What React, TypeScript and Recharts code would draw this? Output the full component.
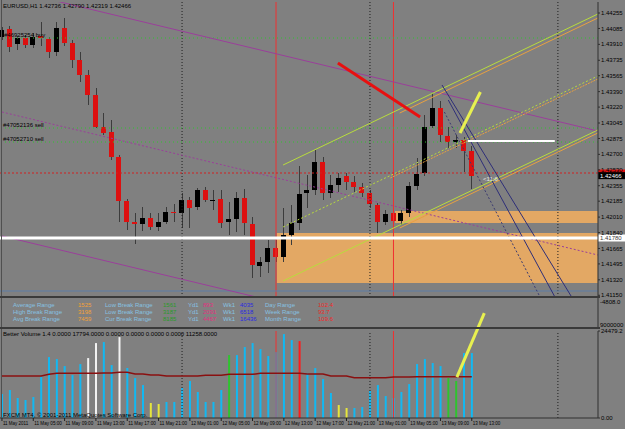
import React from "react";
import {
  Bar,
  Cell,
  ComposedChart,
  Line,
  ReferenceArea,
  ReferenceLine,
  XAxis,
  YAxis,
} from "recharts";

// EURUSD H1, 11-13 May 2011, one entry per bar (bar 0 = 11 May 01:00)
const opens = [
  1.43991, 1.44079, 1.43914, 1.4398, 1.43903, 1.44002, 1.43969, 1.43826, 1.4409, 1.43925,
  1.43738, 1.43573, 1.43353, 1.43001, 1.42946, 1.42671, 1.42187, 1.41956, 1.41934, 1.42,
  1.41901, 1.41956, 1.42066, 1.42055, 1.42198, 1.42121, 1.42308, 1.42198, 1.42209, 1.41956,
  1.41989, 1.4222, 1.41934, 1.41472, 1.41516, 1.4167, 1.41571, 1.41813, 1.41945, 1.42275,
  1.42308, 1.42616, 1.42275, 1.42363, 1.42462, 1.42396, 1.42341, 1.42275, 1.42143, 1.41956,
  1.42055, 1.41967, 1.42055, 1.42352, 1.42495, 1.43012, 1.4321, 1.42902, 1.42836, 1.42858,
  1.42736,
];
const highs = [
  1.44101, 1.44112, 1.44002, 1.44013, 1.44035, 1.44156, 1.43991, 1.44156, 1.442, 1.43958,
  1.43826, 1.43628, 1.4343, 1.43155, 1.43078, 1.42693, 1.42209, 1.42055, 1.42121, 1.42055,
  1.42055, 1.42121, 1.42154, 1.42275, 1.42231, 1.4233, 1.42341, 1.42308, 1.42308, 1.42176,
  1.42286, 1.42319, 1.42011, 1.41571, 1.41758, 1.41758, 1.4211, 1.42143, 1.42572, 1.42473,
  1.42748, 1.42671, 1.42473, 1.42495, 1.42495, 1.42462, 1.42385, 1.42308, 1.42165, 1.42088,
  1.42088, 1.42088, 1.42396, 1.4266, 1.43133, 1.43375, 1.43287, 1.43001, 1.42913, 1.42891,
  1.4279,
];
const lows = [
  1.43958, 1.43826, 1.43848, 1.4387, 1.4387, 1.43892, 1.4376, 1.43782, 1.43892, 1.4365,
  1.43496, 1.43243, 1.4299, 1.42913, 1.42638, 1.41956, 1.41868, 1.41714, 1.41857, 1.41868,
  1.41857, 1.41934, 1.41956, 1.4189, 1.4189, 1.42088, 1.42176, 1.42088, 1.4189, 1.41813,
  1.41846, 1.41813, 1.4134, 1.41351, 1.41395, 1.41516, 1.41516, 1.41703, 1.41868, 1.4211,
  1.42253, 1.42198, 1.4222, 1.42286, 1.42308, 1.42286, 1.42231, 1.4211, 1.41835, 1.41923,
  1.41934, 1.41923, 1.42011, 1.42308, 1.42462, 1.4299, 1.42836, 1.4277, 1.4277, 1.42506,
  1.42319,
];
const closes = [
  1.44068, 1.43881, 1.4398, 1.43903, 1.43991, 1.4398, 1.43826, 1.4409, 1.43925, 1.43738,
  1.43573, 1.43353, 1.43001, 1.42935, 1.42671, 1.42187, 1.41956, 1.41934, 1.42, 1.41901,
  1.41956, 1.42066, 1.42055, 1.42198, 1.4211, 1.42308, 1.42198, 1.42198, 1.41945, 1.41989,
  1.4222, 1.41945, 1.41483, 1.41516, 1.4167, 1.41571, 1.41813, 1.41945, 1.42264, 1.42308,
  1.42616, 1.42275, 1.42363, 1.4244, 1.42396, 1.42341, 1.42275, 1.42154, 1.41956, 1.42044,
  1.41967, 1.42055, 1.42352, 1.42484, 1.43001, 1.4321, 1.42913, 1.42836, 1.42858, 1.42737,
  1.42466,
];

// Better Volume 1.4
const volumes = [
  6740, 7870, 5620, 5060, 5900, 11520, 17140, 16580, 14610, 12080,
  15170, 16860, 21080, 21360, 14890, 22760, 14050, 11240, 9270, 4220,
  3930, 4500, 4500, 8430, 10400, 7310, 4500, 4500, 7870, 17700,
  17700, 19950, 21080, 19390, 17420, 18550, 23600, 21920, 21640, 12650,
  14050, 10960, 7030, 3650, 2810, 2810, 3090, 7590, 9270, 6180,
  5620, 7310, 9550, 15170, 16580, 15460, 14610, 11240, 10400, 18270,
  18270,
];
const volumeMa = [
  11800, 11800, 11800, 11800, 11800, 11800, 12280, 12560, 12560, 12560,
  12560, 12560, 12560, 12650, 12650, 12840, 12840, 12360, 12360, 12080,
  12080, 11800, 11800, 11800, 11800, 11800, 12000, 12000, 12000, 12280,
  12280, 12280, 12280, 12560, 12560, 12560, 12560, 12560, 12560, 12360,
  12360, 12360, 11800, 11800, 11800, 11320, 11320, 11320, 11320, 11320,
  11520, 11520, 11520, 11600, 11600, 11600, 11600, 11600, 11600, 11600,
  11600,
];
// n = normal, lo = low volume, cd = climax down, cu = climax up, ch = churn
const volumeKind = [
  "n", "n", "n", "n", "n", "n", "n", "n", "n", "n",
  "n", "cd", "cd", "n", "n", "cd", "n", "n", "n", "lo",
  "lo", "n", "n", "n", "n", "n", "n", "n", "n", "ch",
  "n", "n", "n", "n", "n", "n", "n", "n", "cu", "n",
  "n", "n", "n", "lo", "lo", "n", "n", "n", "n", "n",
  "n", "n", "n", "n", "n", "n", "n", "ch", "ch", "n",
  "n",
];

const timeTicks = [0, 4, 8, 12, 16, 20, 24, 28, 32, 36, 40, 44, 48, 52, 56, 60];
const timeLabels = [
  "11 May 2011", "11 May 05:00", "11 May 09:00", "11 May 13:00", "11 May 17:00",
  "11 May 21:00", "12 May 01:00", "12 May 05:00", "12 May 09:00", "12 May 13:00",
  "12 May 17:00", "12 May 21:00", "13 May 01:00", "13 May 05:00", "13 May 09:00",
  "13 May 13:00",
];
const priceTicks = [
  1.44255, 1.44085, 1.4391, 1.43735, 1.43565, 1.4339, 1.4322, 1.43045, 1.42875, 1.427,
  1.4253, 1.42355, 1.42185, 1.4201, 1.4184, 1.41665, 1.41495, 1.4132, 1.4115,
];

// chart objects, in (bar, price)
const daySeparators = [23, 47, 71];
const redMarkers = [35, 50];
const orderBuy = [1.4398];
const orderSell = [1.4299, 1.42836];
const redLevel = 1.42495;
const whiteLevel = 1.4178;
const blueLevel = 1.41197;
const bid = 1.42466;
const whiteShort = { from: 59.5, to: 70.6, price: 1.42847 };
const zones = [
  { x1: 50.2, x2: 76.1, y1: 1.41945, y2: 1.42077 },
  { x1: 35.1, x2: 76.1, y1: 1.41285, y2: 1.41835 },
];
const trendLines = [
  { id: "chanTop", a: [0, 1.4453], b: [76.1, 1.42957] },
  { id: "chanMid", a: [0, 1.43166], b: [76.1, 1.41593] },
  { id: "chanLow", a: [0, 1.41802], b: [76.1, 1.40229] },
  { id: "forkUp", a: [35.9, 1.42583], b: [76.1, 1.44244] },
  { id: "forkMid", a: [35.9, 1.41901], b: [76.1, 1.43562] },
  { id: "forkLow", a: [35.9, 1.41307], b: [76.1, 1.42968] },
  { id: "orUp", a: [50.8, 1.43155], b: [76.1, 1.442] },
  { id: "orMid", a: [49.6, 1.4244], b: [76.1, 1.43529] },
  { id: "orLow", a: [50.8, 1.4189], b: [76.1, 1.42935] },
  { id: "downA", a: [56.2, 1.43463], b: [75.1, 1.40801] },
  { id: "downB", a: [56.5, 1.43166], b: [70.9, 1.40768] },
  { id: "downC", a: [57.0, 1.43298], b: [72.9, 1.40768] },
  { id: "red", a: [42.9, 1.43705], b: [53.4, 1.43111] },
  { id: "yellow", a: [58.5, 1.42935], b: [61.1, 1.43386] },
];
const volumeStroke = { a: [58.1, 11520], b: [61.6, 29500] };

const dashLabelsA = ["Average Range", "High Break Range", "Avg Break Range"];
const dashOrange = ["1525", "3198", "7459"];
const dashLabelsB = ["Low Break Range", "Low Break Range", "Cur Break Range"];
const dashGreen = ["1561", "3187", "8185"];
const dashPink = ["893", "2091", "4467"];
const dashBlue = ["4035", "6518", "16436"];
const dashLabelsC = ["Day Range", "Week Range", "Month Range"];
const dashRed = ["102.4", "93.7", "109.6"];

const lineStyle: Record<string, any> = {
  chanTop: { stroke: "#9a3f9a", strokeWidth: 1 },
  chanMid: { stroke: "#9a3f9a", strokeWidth: 1, strokeDasharray: "2 2" },
  chanLow: { stroke: "#9a3f9a", strokeWidth: 1 },
  forkUp: { stroke: "#b8dc3c", strokeWidth: 1 },
  forkMid: { stroke: "#b8dc3c", strokeWidth: 1, strokeDasharray: "2 2" },
  forkLow: { stroke: "#b8dc3c", strokeWidth: 1 },
  orUp: { stroke: "#e8a040", strokeWidth: 1 },
  orMid: { stroke: "#e8a040", strokeWidth: 1, strokeDasharray: "2 1" },
  orLow: { stroke: "#e8a040", strokeWidth: 1 },
  downA: { stroke: "#2e2e78", strokeWidth: 1 },
  downB: { stroke: "#3a3a70", strokeWidth: 1, strokeDasharray: "2 2" },
  downC: { stroke: "#2e2e78", strokeWidth: 1 },
  red: { stroke: "#e81010", strokeWidth: 3 },
  yellow: { stroke: "#e8f050", strokeWidth: 3 },
};
const kindColor: Record<string, string> = {
  n: "#12b8f2",
  lo: "#e6e63c",
  cd: "#f2f2f2",
  cu: "#ff1a1a",
  ch: "#2ec42e",
};

const font = "'Liberation Sans', Arial, sans-serif";
const xDomain = [-0.25, 76.12];

function Candle(props: any) {
  const { x, y, width, height, payload } = props;
  if (!payload || payload.open == null) return null;
  const { open, close, high, low } = payload;
  const span = high - low || 1;
  const py = (v: number) => y + ((high - v) / span) * height;
  const cx = Math.round(x + width / 2) + 0.5;
  const top = py(Math.max(open, close));
  const bot = py(Math.min(open, close));
  const up = close >= open;
  return (
    <g shapeRendering="crispEdges">
      <line x1={cx} x2={cx} y1={y} y2={y + height} stroke="#3c3c3c" />
      <rect
        x={Math.round(x)}
        y={top}
        width={width}
        height={Math.max(1, bot - top)}
        fill={up ? "#000" : "#dd1010"}
      />
    </g>
  );
}

function PriceTag(props: any) {
  const { viewBox, text, bg, fg } = props;
  if (!viewBox) return null;
  const left = viewBox.x + viewBox.width;
  return (
    <g>
      <rect x={left} y={viewBox.y - 3.5} width={27} height={7} fill={bg} />
      <text x={left + 2} y={viewBox.y + 2.2} fontSize={6} fill={fg} fontFamily={font}>
        {text}
      </text>
    </g>
  );
}

function TimeTick(props: any) {
  const { x, y, payload } = props;
  const k = timeTicks.indexOf(payload.value);
  const label = timeLabels[k] || "";
  return (
    <text
      x={x + 1}
      y={y + 4}
      fontSize={5.6}
      fill="#000"
      fontFamily={font}
      textLength={label.length * 2.3}
      lengthAdjust="spacingAndGlyphs"
    >
      {label}
    </text>
  );
}

function T({ x, y, c, children }: any) {
  return (
    <div
      style={{
        position: "absolute",
        left: x,
        top: y - 4,
        fontSize: 6,
        lineHeight: "8px",
        color: c || "#000",
        whiteSpace: "nowrap",
        fontFamily: font,
      }}
    >
      {children}
    </div>
  );
}

export default function App() {
  const rows = opens.map((o, i) => ({
    i,
    open: o,
    high: highs[i],
    low: lows[i],
    close: closes[i],
    volume: volumes[i],
    ma: volumeMa[i],
    kind: volumeKind[i],
  }));

  const verticals = (
    <>
      {daySeparators.map((d) => (
        <ReferenceLine key={"d" + d} x={d} stroke="#1e1e1e" strokeDasharray="1 2" />
      ))}
      {redMarkers.map((d) => (
        <ReferenceLine key={"r" + d} x={d} stroke="#f03030" />
      ))}
    </>
  );

  return (
    <div
      style={{
        position: "relative",
        width: 625,
        height: 429,
        background: "#808080",
        overflow: "hidden",
        fontFamily: font,
      }}
    >
      <style>{`body{margin:0} .vol svg{overflow:visible}`}</style>

      <div style={{ position: "absolute", left: 0, top: 0 }}>
        <ComposedChart width={625} height={298} data={rows} margin={{ top: 2, right: 0, bottom: 1, left: 0 }}>
          <XAxis dataKey="i" type="number" domain={xDomain} hide allowDataOverflow />
          <YAxis
            orientation="right"
            width={27}
            domain={[1.41131, 1.44376]}
            ticks={priceTicks}
            interval={0}
            allowDataOverflow
            tickFormatter={(v: number) => v.toFixed(5)}
            tick={{ fontSize: 6, fill: "#000", fontFamily: font }}
            tickSize={2}
            tickMargin={1}
            axisLine={{ stroke: "#303030" }}
            tickLine={{ stroke: "#303030" }}
          />
          {zones.map((z, k) => (
            <ReferenceArea key={k} x1={z.x1} x2={z.x2} y1={z.y1} y2={z.y2} fill="#e3a864" fillOpacity={1} stroke="none" />
          ))}
          {verticals}
          <ReferenceLine y={blueLevel} stroke="#5c7ca6" />
          {orderBuy.map((p) => (
            <ReferenceLine key={p} y={p} stroke="#2ec42e" strokeDasharray="1 3" />
          ))}
          {orderSell.map((p) => (
            <ReferenceLine key={p} y={p} stroke="#2ec42e" strokeDasharray="1 3" />
          ))}
          <ReferenceLine
            y={redLevel}
            stroke="#d02020"
            strokeDasharray="2 2"
            label={<PriceTag text="" bg="#e01010" fg="#fff" />}
          />
          {trendLines.map((t) => (
            <ReferenceLine
              key={t.id}
              segment={[
                { x: t.a[0], y: t.a[1] },
                { x: t.b[0], y: t.b[1] },
              ]}
              ifOverflow="hidden"
              {...lineStyle[t.id]}
            />
          ))}
          <ReferenceLine
            y={whiteLevel}
            stroke="#ffffff"
            strokeWidth={3}
            label={<PriceTag text={whiteLevel.toFixed(5)} bg="#ffffff" fg="#404040" />}
          />
          <Bar
            dataKey={(d: any) => [d.low, d.high]}
            barSize={5}
            isAnimationActive={false}
            shape={<Candle />}
          />
          <ReferenceLine
            segment={[
              { x: whiteShort.from, y: whiteShort.price },
              { x: whiteShort.to, y: whiteShort.price },
            ]}
            stroke="#ffffff"
            strokeWidth={2}
          />
          <ReferenceLine
            y={bid}
            stroke="none"
            label={<PriceTag text={bid.toFixed(5)} bg="#000" fg="#fff" />}
          />
        </ComposedChart>
      </div>

      <div style={{ position: "absolute", left: 0, top: 298 }}>
        <ComposedChart width={625} height={31} data={rows} margin={{ top: 0, right: 0, bottom: 0, left: 0 }}>
          <XAxis dataKey="i" type="number" domain={xDomain} hide allowDataOverflow />
          <YAxis orientation="right" width={27} domain={[0, 1]} tick={false} axisLine={{ stroke: "#303030" }} tickLine={false} />
          {verticals}
        </ComposedChart>
      </div>

      <div className="vol" style={{ position: "absolute", left: 0, top: 329 }}>
        <ComposedChart width={625} height={100} data={rows} margin={{ top: 2, right: 0, bottom: 0, left: 0 }}>
          <XAxis
            dataKey="i"
            type="number"
            domain={xDomain}
            allowDataOverflow
            ticks={timeTicks}
            interval={0}
            height={11}
            tick={<TimeTick />}
            tickSize={3}
            tickMargin={0}
            axisLine={{ stroke: "#303030" }}
            tickLine={{ stroke: "#202020" }}
          />
          <YAxis
            orientation="right"
            width={27}
            domain={[0, 24479.2]}
            ticks={[0, 24479.2]}
            interval={0}
            allowDataOverflow
            tickFormatter={(v: number) => (v === 0 ? "0.00" : v.toFixed(1))}
            tick={{ fontSize: 6, fill: "#000", fontFamily: font }}
            tickSize={2}
            tickMargin={1}
            axisLine={{ stroke: "#303030" }}
            tickLine={{ stroke: "#303030" }}
          />
          {verticals}
          <Bar dataKey="volume" barSize={2} isAnimationActive={false}>
            {rows.map((r) => (
              <Cell key={r.i} fill={kindColor[r.kind]} />
            ))}
          </Bar>
          <Line
            dataKey="ma"
            type="linear"
            stroke="#8a1010"
            strokeWidth={1.5}
            dot={false}
            isAnimationActive={false}
          />
          <ReferenceLine
            segment={[
              { x: volumeStroke.a[0], y: volumeStroke.a[1] },
              { x: volumeStroke.b[0], y: volumeStroke.b[1] },
            ]}
            ifOverflow="visible"
            stroke="#e8f050"
            strokeWidth={3}
          />
        </ComposedChart>
      </div>

      {/* frame */}
      <div style={{ position: "absolute", left: 1, top: 0, width: 1, height: 418, background: "#505050" }} />
      <div style={{ position: "absolute", left: 0, top: 296, width: 600, height: 2, background: "#3a3a3a" }} />
      <div style={{ position: "absolute", left: 0, top: 327, width: 600, height: 2, background: "#3a3a3a" }} />

      {/* texts */}
      <T x={3} y={6}>EURUSD,H1  1.42736 1.42790 1.42319 1.42466</T>
      <T x={4} y={35}>#46925254 buy</T>
      <T x={3} y={125}>#47052136 sell</T>
      <T x={3} y={139}>#47052710 sell</T>
      <T x={483} y={179} c="#e6e6e6">{"<11:6"}</T>

      {dashOrange.map((v, k) => (
        <React.Fragment key={k}>
          <T x={13} y={305 + k * 7} c="#86c0e0">{dashLabelsA[k]}</T>
          <T x={78} y={305 + k * 7} c="#f2a13a">{v}</T>
          <T x={105} y={305 + k * 7} c="#86c0e0">{dashLabelsB[k]}</T>
          <T x={163} y={305 + k * 7} c="#2a9a2a">{dashGreen[k]}</T>
          <T x={188} y={305 + k * 7} c="#86c0e0">Yd1</T>
          <T x={203} y={305 + k * 7} c="#e0307f">{dashPink[k]}</T>
          <T x={223} y={305 + k * 7} c="#86c0e0">Wk1</T>
          <T x={240} y={305 + k * 7} c="#2a2ae0">{dashBlue[k]}</T>
          <T x={265} y={305 + k * 7} c="#86c0e0">{dashLabelsC[k]}</T>
          <T x={318} y={305 + k * 7} c="#f02828">{dashRed[k]}</T>
        </React.Fragment>
      ))}
      <T x={600} y={302}>-4808.0</T>
      <T x={600} y={325}>9000000</T>

      <T x={3} y={334}>Better Volume 1.4 0.0000 17794.0000 0.0000 0.0000 0.0000 0.0000 11258.0000</T>
      <T x={3} y={415}>FXCM MT4, © 2001-2011 MetaQuotes Software Corp.</T>
    </div>
  );
}
